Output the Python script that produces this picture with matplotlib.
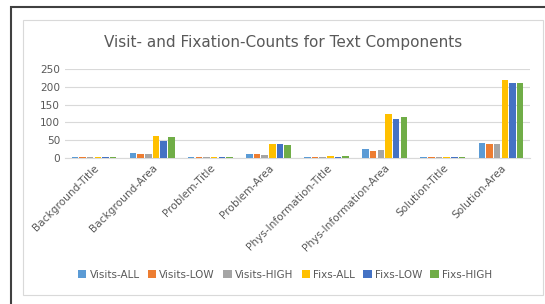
import numpy as np
import matplotlib.pyplot as plt
from matplotlib.patches import Rectangle

categories = ["Background-Title", "Background-Area", "Problem-Title", "Problem-Area",
              "Phys-Information-Title", "Phys-Information-Area", "Solution-Title", "Solution-Area"]
series = ["Visits-ALL", "Visits-LOW", "Visits-HIGH", "Fixs-ALL", "Fixs-LOW", "Fixs-HIGH"]
visits_all = [3, 13, 2, 10, 3, 24, 2, 42]
visits_low = [3, 10, 2, 12, 3, 21, 2, 40]
visits_high = [3, 11, 1.5, 8, 2.5, 23, 2, 40]
fixs_all = [3, 62, 2, 40, 7, 123, 2, 218]
fixs_low = [4, 48, 2.5, 40, 4, 110, 2, 210]
fixs_high = [3, 58, 1.5, 37, 5, 115, 2, 210]
colors = ["#5b9bd5", "#ed7d31", "#a5a5a5", "#ffc000", "#4472c4", "#70ad47"]
yticks = [0, 50, 100, 150, 200, 250]

data = [visits_all, visits_low, visits_high, fixs_all, fixs_low, fixs_high]

fig = plt.figure(figsize=(5.45, 3.04), dpi=100)
fig.patches.append(Rectangle((10.5 / 545, -0.01), 0.99, 1 - 7 / 304 + 0.01, transform=fig.transFigure,
                             fill=False, edgecolor="#404040", linewidth=1.5))
fig.patches.append(Rectangle((22.5 / 545, 1 - 295 / 304), (543 - 22.5) / 545, (295 - 20) / 304,
                             transform=fig.transFigure, fill=False, edgecolor="#d9d9d9", linewidth=0.8))

ax = fig.add_axes([65 / 545, 1 - 158 / 304, (530 - 65) / 545, (158 - 69) / 304])
x = np.arange(len(categories))
step = 0.132
w = 0.112
for i, (vals, name) in enumerate(zip(data, series)):
    ax.bar(x + (i - 2.5) * step, vals, w, color=colors[i], linewidth=0, label=name, zorder=3)

ax.set_ylim(0, 250)
ax.set_xlim(-0.5, len(categories) - 0.5)
ax.set_yticks(yticks)
ax.yaxis.grid(True, color="#d9d9d9", linewidth=0.8, zorder=0)
for s in ["top", "right", "left"]:
    ax.spines[s].set_visible(False)
ax.spines["bottom"].set_color("#d9d9d9")
ax.tick_params(axis="both", length=0, labelsize=7.6, colors="#595959")
ax.set_xticks(x)
ax.set_xticklabels(categories, rotation=45, ha="right", rotation_mode="anchor")

fig.text(283 / 545, 1 - 43 / 304, "Visit- and Fixation-Counts for Text Components", ha="center", va="center",
         fontsize=11, color="#595959")
fig.legend(loc="center", bbox_to_anchor=(285 / 545, 1 - 275 / 304), ncol=6, frameon=False, fontsize=7.5,
           handlelength=0.8, handleheight=0.8, handletextpad=0.3, columnspacing=0.8, labelcolor="#595959")

fig.savefig("out.png", dpi=100)
